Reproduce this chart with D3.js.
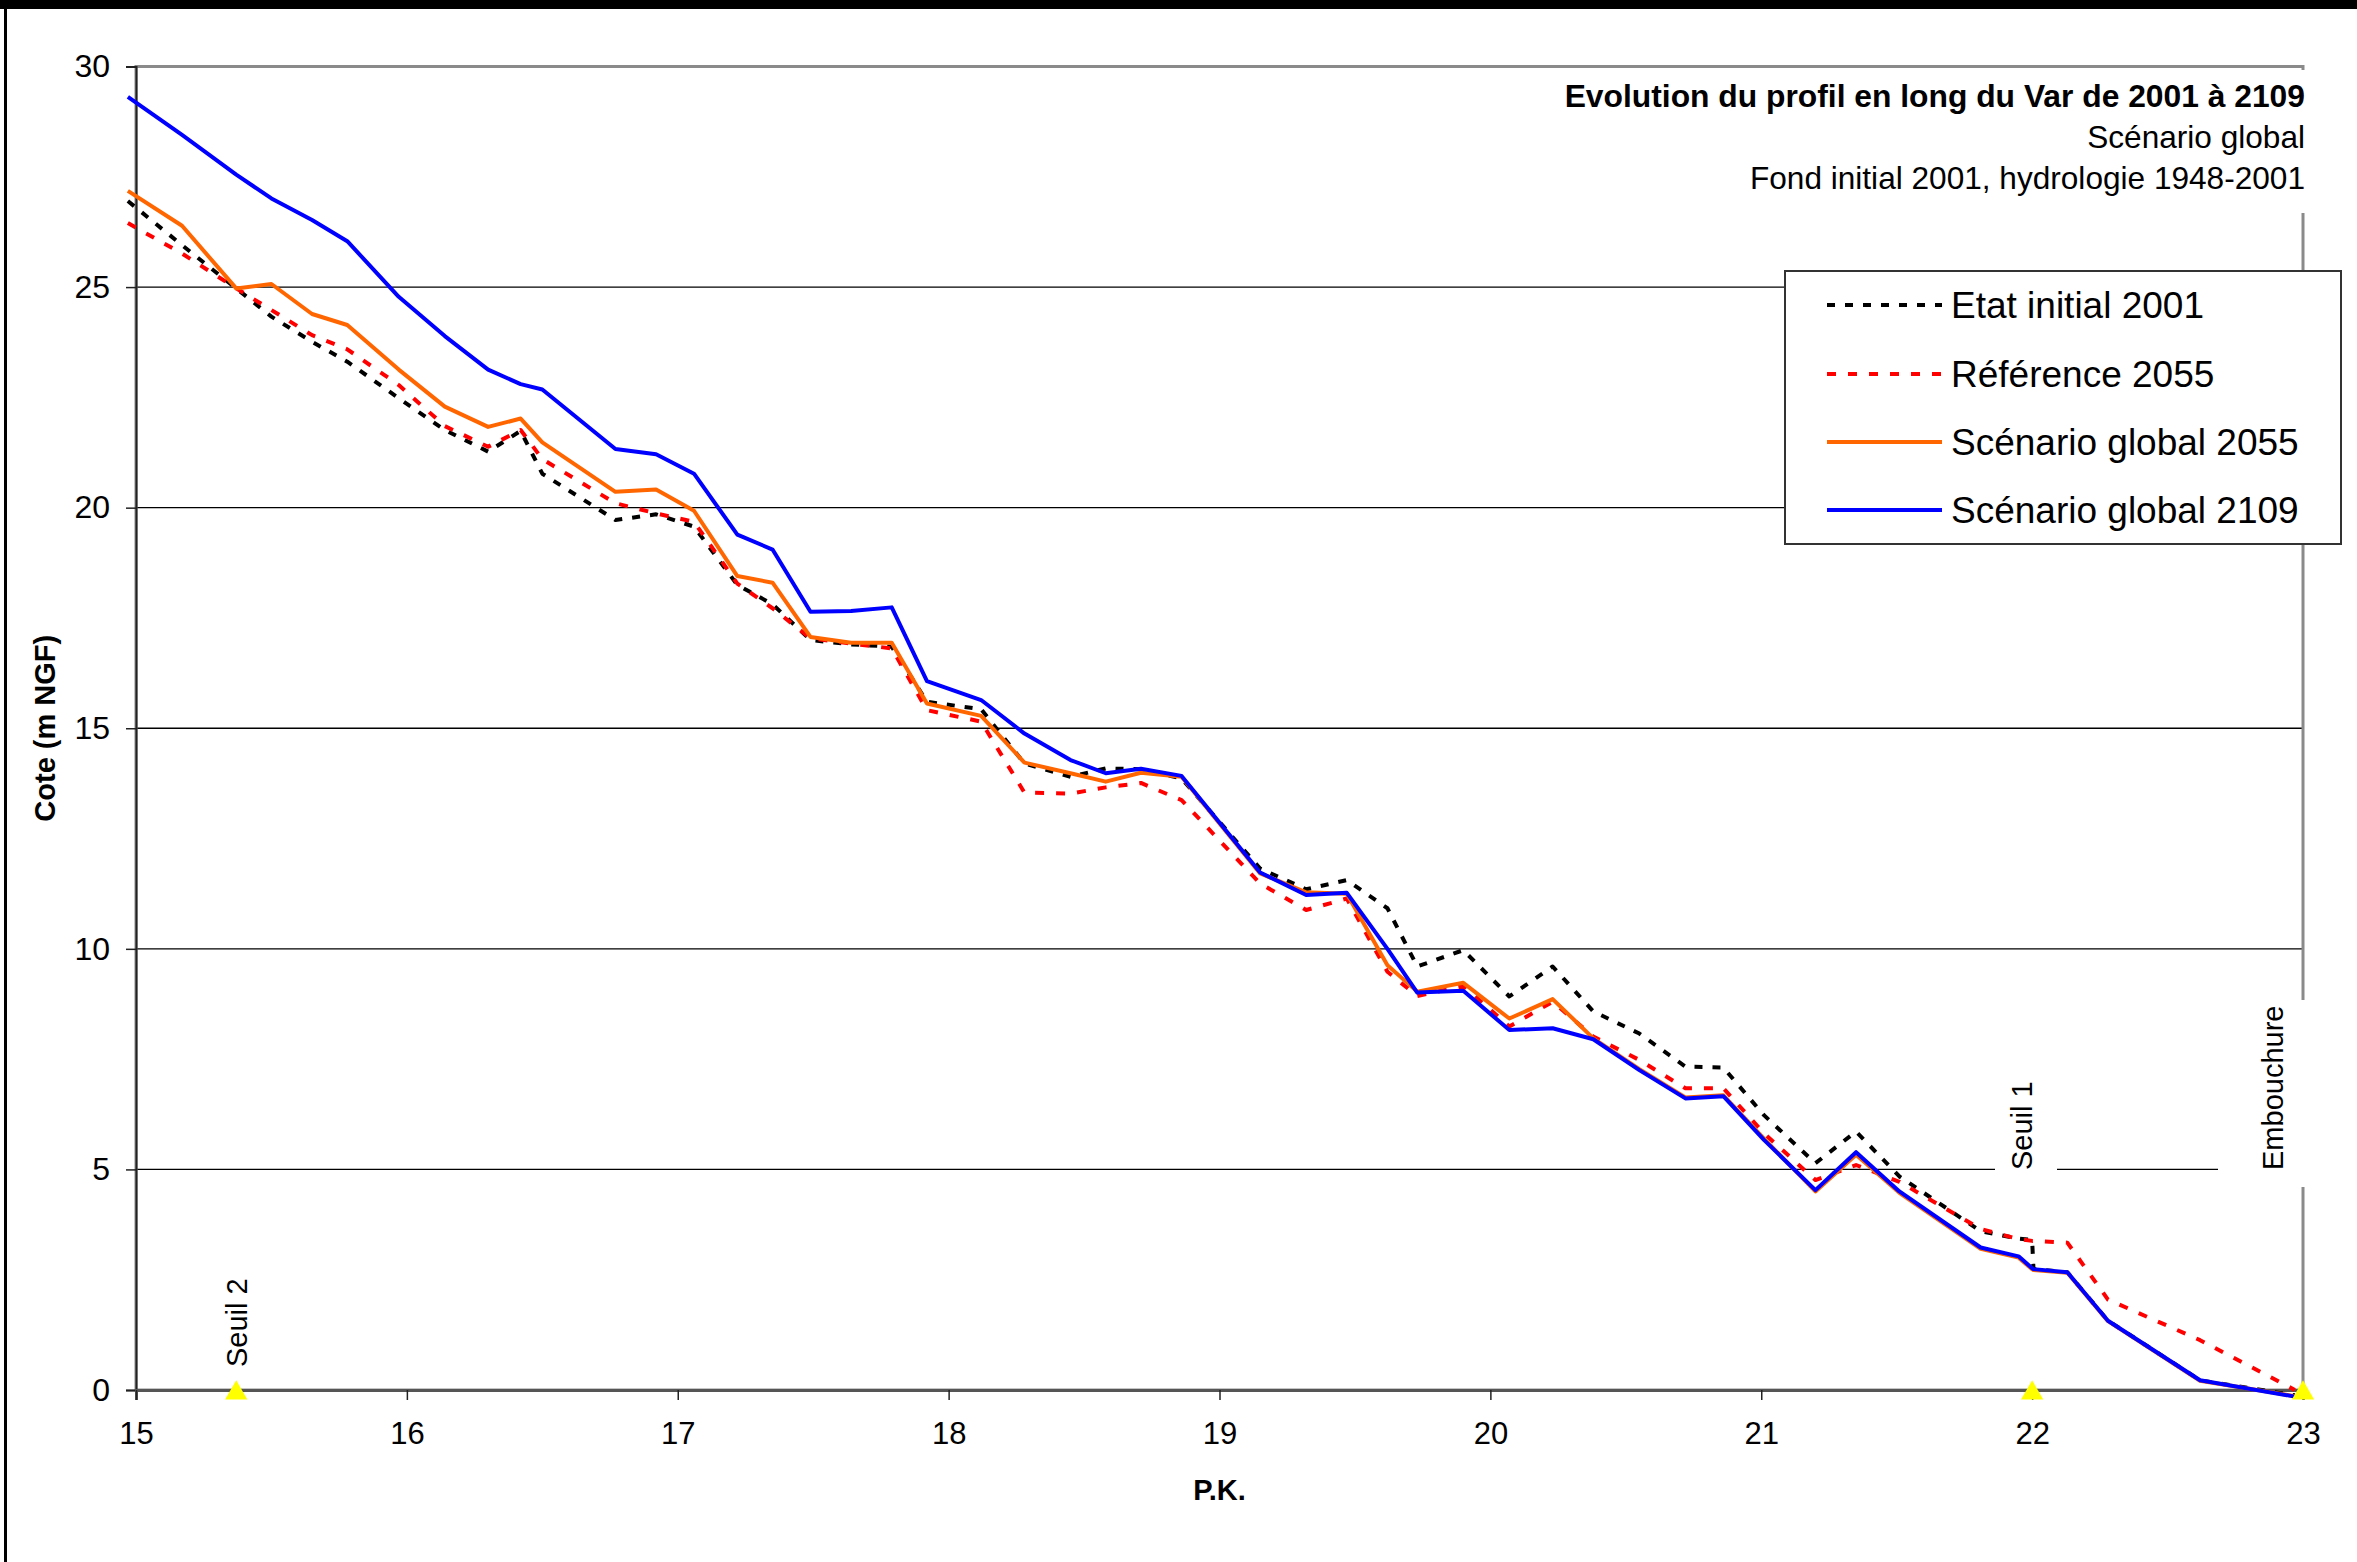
<!DOCTYPE html>
<html><head><meta charset="utf-8">
<script src="https://cdn.jsdelivr.net/npm/d3@7"></script>
<style>
body{margin:0;background:#fff}
svg{display:block}
text{font-family:"Liberation Sans",Arial,Helvetica,sans-serif}
</style>
</head><body>
<svg id="chart" width="2357" height="1562"></svg>
<script>
// ---- data ----
const pk = [14.97,15.17,15.37,15.50,15.65,15.78,15.97,16.14,16.30,16.42,16.50,16.77,16.92,17.06,17.22,17.35,17.49,17.64,17.79,17.92,18.12,18.28,18.45,18.58,18.71,18.86,19.15,19.32,19.47,19.62,19.73,19.90,20.07,20.23,20.38,20.55,20.72,20.86,21.01,21.20,21.35,21.51,21.81,21.95,22.00,22.005,22.13,22.28,22.62,22.97];
const etatInitial2001 = [26.95,25.95,24.97,24.33,23.76,23.31,22.48,21.76,21.27,21.74,20.77,19.72,19.85,19.57,18.25,17.81,17.00,16.90,16.85,15.60,15.43,14.20,13.90,14.09,14.07,13.86,11.82,11.35,11.56,10.92,9.60,9.97,8.92,9.60,8.58,8.08,7.33,7.31,6.23,5.14,5.86,4.84,3.60,3.43,3.40,2.74,2.67,1.57,0.22,-0.12];
const reference2055 = [26.45,25.76,24.97,24.48,23.91,23.59,22.78,21.85,21.38,21.76,21.10,20.10,19.87,19.68,18.28,17.72,17.04,16.92,16.81,15.41,15.15,13.54,13.52,13.66,13.76,13.37,11.48,10.88,11.14,9.48,8.93,9.16,8.24,8.80,8.01,7.48,6.84,6.84,5.82,4.76,5.10,4.72,3.65,3.42,3.38,3.38,3.34,2.05,1.13,0.00];
const scenarioGlobal2055 = [27.18,26.39,24.97,25.07,24.39,24.14,23.13,22.29,21.83,22.02,21.48,20.36,20.41,19.93,18.45,18.30,17.07,16.94,16.94,15.56,15.28,14.22,13.98,13.79,13.99,13.90,11.71,11.28,11.25,9.63,9.03,9.23,8.42,8.86,7.97,7.27,6.63,6.68,5.70,4.50,5.33,4.47,3.20,3.00,2.74,2.72,2.66,1.56,0.21,-0.14];
const scenarioGlobal2109 = [29.31,28.45,27.55,27.01,26.52,26.04,24.78,23.89,23.13,22.80,22.68,21.33,21.21,20.77,19.39,19.05,17.64,17.66,17.74,16.07,15.64,14.88,14.28,13.98,14.08,13.92,11.73,11.22,11.27,10.00,9.01,9.05,8.16,8.20,7.95,7.25,6.61,6.66,5.67,4.53,5.39,4.50,3.23,3.03,2.76,2.74,2.67,1.57,0.22,-0.15];
const seriesNames = ["Etat initial 2001","Référence 2055","Scénario global 2055","Scénario global 2109"];
const xTicks = [15,16,17,18,19,20,21,22,23];
const yTicks = [0,5,10,15,20,25,30];
const markerPk = [15.37,22.0,23.0];
const markerVal = [0,0,0];
const markerLabels = ["Seuil 2","Seuil 1","Embouchure"];
const titleLines = ["Evolution du profil en long du Var de 2001 à 2109","Scénario global","Fond initial 2001, hydrologie 1948-2001"];
const xTitle = "P.K.";
const yTitle = "Cote (m NGF)";

// ---- drawing ----
const svg = d3.select("#chart");
const W = 2357, H = 1562;
svg.append("rect").attr("width",W).attr("height",H).attr("fill","#fff");

const x = d3.scaleLinear().domain([15,23]).range([136,2303]);
const y = d3.scaleLinear().domain([0,30]).range([1390,66.5]);

// outer frame pieces
svg.append("rect").attr("x",0).attr("y",0).attr("width",W).attr("height",9).attr("fill","#000");
svg.append("rect").attr("x",4).attr("y",9).attr("width",3).attr("height",H-9).attr("fill","#000");

// gridlines
svg.append("g").selectAll("line").data(yTicks.filter(v=>v>0 && v<30)).join("line")
  .attr("x1",x(15)).attr("x2",x(23)).attr("y1",d=>y(d)).attr("y2",d=>y(d))
  .attr("stroke","#000").attr("stroke-width",1.4);

// plot border (gray)
svg.append("rect").attr("x",x(15)).attr("y",y(30)).attr("width",x(23)-x(15)).attr("height",y(0)-y(30))
  .attr("fill","none").attr("stroke","#8a8a8a").attr("stroke-width",3);

// axes
const yAxis = d3.axisLeft(y).tickValues(yTicks).tickSize(10).tickPadding(16).tickFormat(d3.format("d"));
const gy = svg.append("g").attr("transform",`translate(${x(15)},0)`).call(yAxis);
gy.select(".domain").attr("stroke","#222").attr("stroke-width",2);
gy.selectAll(".tick line").attr("stroke","#222").attr("stroke-width",1.5);
gy.selectAll(".tick text").attr("font-size",32).attr("fill","#000").attr("font-family","Liberation Sans, Arial, sans-serif");

const xAxis = d3.axisBottom(x).tickValues(xTicks).tickSize(10).tickPadding(22).tickFormat(d3.format("d"));
const gx = svg.append("g").attr("transform",`translate(0,${y(0)})`).call(xAxis);
gx.select(".domain").attr("stroke","#555").attr("stroke-width",3);
gx.selectAll(".tick line").attr("stroke","#222").attr("stroke-width",1.5);
gx.selectAll(".tick text").attr("font-size",31).attr("fill","#000").attr("font-family","Liberation Sans, Arial, sans-serif");

// series
const series = [
  {name:seriesNames[0], vals:etatInitial2001, color:"#000000", dash:"8,10"},
  {name:seriesNames[1], vals:reference2055, color:"#ff0000", dash:"9,12"},
  {name:seriesNames[2], vals:scenarioGlobal2055, color:"#ff6600", dash:null},
  {name:seriesNames[3], vals:scenarioGlobal2109, color:"#0000ff", dash:null}
];
const line = d3.line().x(d=>x(d[0])).y(d=>y(d[1]));
series.forEach(s=>{
  svg.append("path").datum(pk.map((p,i)=>[p,s.vals[i]]))
    .attr("d",line).attr("fill","none").attr("stroke",s.color).attr("stroke-width",4)
    .attr("stroke-linejoin","round").attr("stroke-dasharray",s.dash);
});

// marker labels (rotated, white background)
const labelPos = [
  {bx:247, by:1367, box:null},
  {bx:2032, by:1170, box:[1995,1078,62,104]},
  {bx:2283, by:1170, box:[2218,1000,94,187]}
];
markerLabels.forEach((t,i)=>{
  const lp = labelPos[i];
  if(lp.box) svg.append("rect").attr("x",lp.box[0]).attr("y",lp.box[1]).attr("width",lp.box[2]).attr("height",lp.box[3]).attr("fill","#fff");
  svg.append("text").attr("transform",`translate(${lp.bx},${lp.by}) rotate(-90)`)
    .attr("font-size",29).attr("fill","#000").text(t);
});

// yellow triangle markers
svg.append("g").selectAll("path").data(markerPk.map((p,i)=>[p,markerVal[i]])).join("path")
  .attr("d",d3.symbol(d3.symbolTriangle,215))
  .attr("transform",d=>`translate(${x(d[0])},${y(d[1])+3})`)
  .attr("fill","#ffff00");

// title block
svg.append("rect").attr("x",1540).attr("y",70).attr("width",775).attr("height",143).attr("fill","#fff");
const tb = [107,148,189];
titleLines.forEach((t,i)=>{
  svg.append("text").attr("x",2305).attr("y",tb[i]).attr("text-anchor","end")
    .attr("font-size",i===0?31.8:31.6).attr("font-weight",i===0?"bold":"normal").attr("fill","#000").text(t);
});

// legend
const lg = svg.append("g");
lg.append("rect").attr("x",1785).attr("y",271).attr("width",556).attr("height",273)
  .attr("fill","#fff").attr("stroke","#333").attr("stroke-width",2);
const lyc = [305,374,442,510];
series.forEach((s,i)=>{
  lg.append("line").attr("x1",1827).attr("x2",1942).attr("y1",lyc[i]).attr("y2",lyc[i])
    .attr("stroke",s.color).attr("stroke-width",4).attr("stroke-dasharray",s.dash);
  lg.append("text").attr("x",1951).attr("y",lyc[i]+13).attr("font-size",37).attr("fill","#000").text(s.name);
});

// axis titles
svg.append("text").attr("x",x(19)).attr("y",1500).attr("text-anchor","middle")
  .attr("font-size",29).attr("font-weight","bold").text(xTitle);
svg.append("text").attr("transform",`translate(55,${(y(0)+y(30))/2}) rotate(-90)`).attr("text-anchor","middle")
  .attr("font-size",29).attr("font-weight","bold").text(yTitle);
</script>
</body></html>
